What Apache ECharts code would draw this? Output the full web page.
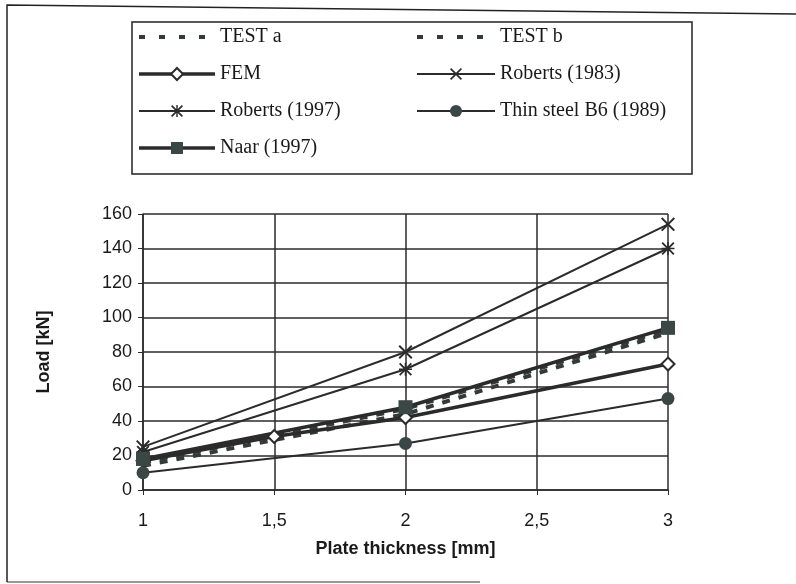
<!DOCTYPE html>
<html>
<head>
<meta charset="utf-8">
<script src="https://cdn.jsdelivr.net/npm/echarts@6/dist/echarts.min.js"></script>
<style>
  html, body { margin: 0; padding: 0; background: #fff; }
  #chart { width: 796px; height: 584px; }
</style>
</head>
<body>
<div id="chart"></div>
<script>
// values (x = plate thickness in mm, y = load in kN)
const testA = [[1, 16], [2, 47], [3, 93]];
const testB = [[1, 14], [1.5, 29], [2, 44], [3, 91]];
const fem = [[1, 17], [1.5, 31], [2, 42], [3, 73]];
const roberts1983 = [[1, 25], [2, 80], [3, 154]];
const roberts1997 = [[1, 22], [2, 70], [3, 140]];
const thinSteel = [[1, 10], [2, 27], [3, 53]];
const naar = [[1, 18], [2, 48], [3, 94]];

const leftNames = ['TEST a', 'FEM', 'Roberts (1997)', 'Naar (1997)'];
const rightNames = ['TEST b', 'Roberts (1983)', 'Thin steel B6 (1989)'];
const dashedNames = ['TEST a', 'TEST b'];
const thickNames = ['FEM', 'Naar (1997)'];

const ink = '#2b2b2b';
const fillDark = '#3b4745';
const crossPath = 'path://M0,1 L1,0 L5,4 L9,0 L10,1 L6,5 L10,9 L9,10 L5,6 L1,10 L0,9 L4,5 Z';
const starPath = crossPath + ' M4.4,0 L5.6,0 L5.6,10 L4.4,10 Z M0,4.4 L10,4.4 L10,5.6 L0,5.6 Z';

const lineSeries = function(name, data, opts) {
  return Object.assign({
    name: name,
    type: 'line',
    data: data,
    symbol: 'none',
    lineStyle: { color: ink, width: 2 },
    itemStyle: { color: ink },
    emphasis: { disabled: true },
    animation: false
  }, opts);
};

// legend rows: dashed ones have no marker, thick ones get a heavier stroke
const legendData = names => names.map(n => {
  if (dashedNames.includes(n)) {
    return { name: n, itemStyle: { opacity: 0 }, lineStyle: { width: 4, type: [6, 14], color: '#333a3a' } };
  }
  if (thickNames.includes(n)) {
    return { name: n, lineStyle: { width: 3.5, color: ink } };
  }
  return { name: n, lineStyle: { width: 2, color: ink } };
});

const legendText = { fontFamily: '"Liberation Serif", serif', fontSize: 20, color: '#1a1a1a', lineHeight: 20 };
const axisFont = { fontFamily: '"Liberation Sans", Arial, sans-serif', fontSize: 18, color: '#1a1a1a' };

const ctx = document.getElementById('chart');
const chart = echarts.init(ctx, null, { renderer: 'canvas' });

chart.setOption({
  backgroundColor: '#fff',
  graphic: [
    { type: 'polyline', shape: { points: [[7, 582], [7, 5], [796, 14]] }, style: { stroke: '#222', lineWidth: 1.5, fill: null } },
    { type: 'line', shape: { x1: 7, y1: 582, x2: 480, y2: 582 }, style: { stroke: '#333', lineWidth: 1.2 } },
    { type: 'rect', shape: { x: 132, y: 22, width: 560, height: 152 }, style: { stroke: '#222', lineWidth: 1.5, fill: null } }
  ],
  legend: [
    {
      data: legendData(leftNames), orient: 'vertical', left: 137, top: 27, padding: 0,
      itemWidth: 76, itemHeight: 15, itemGap: 17, textStyle: legendText, selectedMode: false
    },
    {
      data: legendData(rightNames), orient: 'vertical', left: 415, top: 27, padding: 0,
      itemWidth: 78, itemHeight: 15, itemGap: 17, textStyle: legendText, selectedMode: false
    }
  ],
  grid: { left: 143, right: 128, top: 214, bottom: 94 },
  xAxis: {
    type: 'value', min: 1, max: 3, interval: 0.5,
    name: 'Plate thickness [mm]', nameLocation: 'middle', nameGap: 50,
    nameTextStyle: Object.assign({}, axisFont, { fontWeight: 'bold' }),
    axisLine: { lineStyle: { color: ink, width: 1.5 } },
    axisTick: { show: true, length: 5, lineStyle: { color: ink } },
    axisLabel: Object.assign({}, axisFont, { margin: 22, formatter: v => String(v).replace('.', ',') }),
    splitLine: { show: true, lineStyle: { color: ink, width: 1.5 } }
  },
  yAxis: {
    type: 'value', min: 0, max: 160, interval: 20,
    name: 'Load [kN]', nameLocation: 'middle', nameGap: 90,
    nameTextStyle: Object.assign({}, axisFont, { fontWeight: 'bold' }),
    axisLine: { show: true, lineStyle: { color: ink, width: 1.5 } },
    axisTick: { show: true, length: 5, lineStyle: { color: ink } },
    axisLabel: Object.assign({}, axisFont, { margin: 11 }),
    splitLine: { show: true, lineStyle: { color: ink, width: 1.5 } }
  },
  series: [
    lineSeries('TEST a', testA, { lineStyle: { color: '#333a3a', width: 4, type: [8, 9] } }),
    lineSeries('TEST b', testB, { lineStyle: { color: '#333a3a', width: 4, type: [8, 9] } }),
    lineSeries('FEM', fem, {
      symbol: 'diamond', symbolSize: 13,
      lineStyle: { color: ink, width: 3.5 },
      itemStyle: { color: '#fff', borderColor: ink, borderWidth: 2 }
    }),
    lineSeries('Roberts (1983)', roberts1983, {
      symbol: crossPath, symbolSize: 14,
      itemStyle: { color: ink }
    }),
    lineSeries('Roberts (1997)', roberts1997, {
      symbol: starPath, symbolSize: 13,
      itemStyle: { color: ink }
    }),
    lineSeries('Thin steel B6 (1989)', thinSteel, {
      symbol: 'circle', symbolSize: 13,
      itemStyle: { color: fillDark }
    }),
    lineSeries('Naar (1997)', naar, {
      symbol: 'rect', symbolSize: 14,
      lineStyle: { color: ink, width: 3.5 },
      itemStyle: { color: fillDark }
    })
  ]
});
</script>
</body>
</html>
